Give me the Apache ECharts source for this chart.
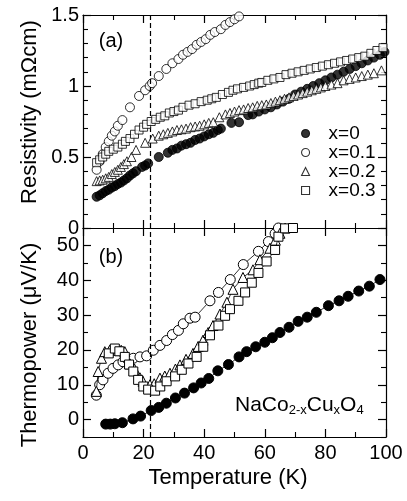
<!DOCTYPE html>
<html><head><meta charset="utf-8">
<script src="https://cdn.jsdelivr.net/npm/echarts@6/dist/echarts.min.js"></script>
<style>html,body{margin:0;padding:0;background:#fff}#c{width:407px;height:501px}</style>
</head><body><div id="c"></div>
<script>
// ---------- data ----------
const seriesNames = ['x=0', 'x=0.1', 'x=0.2', 'x=0.3'];
const xTicks = [0, 20, 40, 60, 80, 100];
const rhoTicks = [0, 0.5, 1, 1.5];
const sTicks = [0, 10, 20, 30, 40, 50];
const sMinorTicks = [-5, 5, 15, 25, 35, 45, 55];
const dashedT = 22.2;

// (a) Resistivity (mOhm cm)
const rhoT_0 = [4.5,5.5,6.5,7.5,8.5,9.5,10.5,11.5,12.5,13.5,14.5,15.5,16.5,17.5,19.5,20.5,21.5,25,28,29.5,31,32.5,34,35.5,37,38.5,40,41.5,43,44.5,45.5,49,51.5,54.5,56,58,60,62,64,66,68,70,72,74,76,78,80,82,84,86,88,90,92,94,96,98,99.5];
const rho_0  = [0.22,0.23,0.245,0.26,0.27,0.285,0.295,0.31,0.32,0.335,0.35,0.37,0.385,0.40,0.43,0.44,0.455,0.50,0.53,0.55,0.56,0.58,0.59,0.60,0.62,0.63,0.645,0.66,0.67,0.69,0.70,0.74,0.745,0.795,0.80,0.82,0.835,0.85,0.87,0.89,0.91,0.94,0.96,0.98,1.00,1.02,1.04,1.06,1.08,1.10,1.12,1.14,1.16,1.18,1.20,1.22,1.24];
const rhoT_1 = [4.5,5.5,6.5,7.5,8.5,9.5,10.5,11.5,13,15.5,18.5,20.5,22,22.8,25,27.5,29.5,31.5,33,34.5,36,37.5,39,40.5,42,43.5,45.5,47,48.5,50,51.5];
const rho_1  = [0.41,0.47,0.52,0.57,0.61,0.65,0.68,0.72,0.76,0.85,0.93,0.97,1.00,1.02,1.07,1.12,1.16,1.19,1.22,1.24,1.26,1.29,1.31,1.33,1.36,1.38,1.40,1.43,1.45,1.47,1.49];
const rhoT_2 = [4.5,5.5,6.5,7.5,8.5,9.5,10.5,11.5,12.5,13.5,14.5,16,17.5,20.5,23,25,26.5,28,29.5,31,32.5,34,35.5,37,38.5,40,41.5,43,45,47,48.5,50,51.5,53,54.5,56,57.5,59,60.5,62,63.5,65,66.5,68,69.5,71,72.5,74,75.5,77,78.5,80,82,84,86,88,90,92,94,96,98.5];
const rho_2  = [0.33,0.335,0.34,0.35,0.36,0.38,0.395,0.41,0.43,0.45,0.47,0.50,0.55,0.60,0.63,0.65,0.66,0.67,0.68,0.69,0.695,0.70,0.71,0.715,0.72,0.73,0.74,0.745,0.78,0.80,0.81,0.82,0.83,0.835,0.845,0.85,0.86,0.865,0.87,0.88,0.89,0.90,0.91,0.92,0.93,0.94,0.95,0.96,0.97,0.98,0.99,1.00,1.01,1.02,1.04,1.05,1.06,1.07,1.08,1.09,1.11];
const rhoT_3 = [4.5,5.5,6.5,7.5,8.5,10,11.5,13,14,15.5,17,18.5,20,21,22.5,24,25.5,27,28.5,30,31.5,33,35,37,39,41,42.5,44,46,48,49.5,51,53,55,56.5,58,59,61,63,65,67,69,71,73,75,77,79,81,83,85,87,89,91,93,95,97,99];
const rho_3  = [0.46,0.48,0.50,0.52,0.54,0.555,0.57,0.59,0.61,0.63,0.66,0.69,0.71,0.73,0.75,0.765,0.78,0.79,0.81,0.82,0.83,0.85,0.865,0.875,0.89,0.90,0.91,0.92,0.94,0.955,0.97,0.98,0.99,1.00,1.01,1.02,1.025,1.04,1.05,1.06,1.08,1.09,1.10,1.11,1.12,1.13,1.14,1.15,1.16,1.17,1.18,1.19,1.20,1.21,1.23,1.25,1.27];

// (b) Thermopower (uV/K)
const sT_0 = [7.5,9,10.5,13,16.5,19,22.5,25,27.5,30.5,33.5,36.5,39,41.5,44.5,48,51.5,54,57,60,62.5,65,68,71,74,77,81,84.5,87.5,91,94.5,98];
const s_0  = [-1.3,-1.3,-1.2,-0.9,0.2,1.0,2.6,3.5,4.7,6.2,7.6,9.1,10.5,11.8,14.0,15.8,18.0,19.5,20.9,22.2,23.5,25.0,26.5,28.2,29.4,30.8,32.7,34.1,35.4,36.9,38.3,40.2];
const sT_1 = [4.4,5.5,6.6,8.3,9.9,11.6,13.2,14.9,16.6,18.8,21,23.2,25.4,27.6,29.5,31.5,33.1,35.3,37,41.9,44.7,48.6,52.9,57.9,61.2,63.4,64.5];
const s_1  = [7.0,10.0,11.4,13.3,14.7,15.7,16.6,17.1,17.6,18.0,18.3,19.9,21.3,22.7,24.4,25.6,27.5,29.1,29.4,34.1,36.5,40.2,44.5,48.3,51.1,53.4,55];
const sT_2 = [4.4,5.0,6.1,7.2,8.8,10.2,11.6,12.6,13.8,15.5,17,18.8,19.8,22.1,23.5,25.4,27,28.7,30.5,32,34,36.3,38,39.6,41.3,42.9,45.2,47.5,49.5,52.8,56.1,58.4,61.7,63.5,65,66.7];
const s_2  = [8.1,13.8,17.6,19.5,19.9,20.0,19.9,19.9,19.5,16.0,14.5,12.0,11.0,10.0,10.3,11.9,12.5,13.3,14.5,15.7,17.3,19.0,21.0,22.8,25.0,27.0,30.3,33.7,37.4,40.8,43.0,45.9,49.2,51.5,53.5,55];
const sT_3 = [8.5,10.5,12,13.8,15.2,16.6,18.2,19.9,21.5,23.8,25.5,27.6,30.4,32.6,34.8,37.5,39.7,41.9,44.7,46.9,48.5,51.3,53.5,55.7,57.9,60.6,63.4,64.5,66.7,69.3];
const s_3  = [19.0,20.4,19.6,18.0,15.8,13.8,11.4,9.5,8.6,8.3,9.5,11.0,12.4,14.3,16.1,18.0,20.9,24.2,27.0,29.8,31.7,34.1,36.5,39.3,42.1,45.4,48.7,52.5,54.9,55];

// ---------- chart ----------
const FONT = 'Liberation Sans, Arial, Helvetica, sans-serif';
const pairs = (xs, ys) => xs.map((x, i) => [x, ys[i]]);
const black = '#000';

function xAxis(grid, pos, showLabel) {
  return {
    type: 'value', gridIndex: grid, position: pos, min: 0, max: 100, interval: 20,
    axisLine: { show: true, onZero: false, lineStyle: { color: black, width: 1.2 } },
    axisTick: { show: true, inside: true, length: 8, lineStyle: { color: black, width: 1.2 } },
    minorTick: { show: true, splitNumber: 2, length: 5, lineStyle: { color: black, width: 1.1 } },
    splitLine: { show: false }, minorSplitLine: { show: false },
    axisLabel: { show: showLabel, color: black, fontFamily: FONT, fontSize: 20, margin: 6 }
  };
}
function rhoAxis(pos, showLabel) {
  return {
    type: 'value', gridIndex: 0, position: pos, min: 0, max: 1.5, interval: 0.5,
    axisLine: { show: true, onZero: false, lineStyle: { color: black, width: 1.2 } },
    axisTick: { show: true, inside: true, length: 8, lineStyle: { color: black, width: 1.2 } },
    minorTick: { show: true, splitNumber: 5, length: 5, lineStyle: { color: black, width: 1.1 } },
    splitLine: { show: false }, minorSplitLine: { show: false },
    axisLabel: { show: showLabel, color: black, fontFamily: FONT, fontSize: 20, margin: 4 }
  };
}
function sAxis(pos, showLabel) {
  return {
    type: 'value', gridIndex: 1, position: pos, min: -5, max: 55,
    axisLine: { show: true, onZero: false, lineStyle: { color: black, width: 1.2 } },
    axisTick: { show: true, inside: true, length: 8, customValues: sTicks, lineStyle: { color: black, width: 1.2 } },
    splitLine: { show: false },
    axisLabel: { show: showLabel, customValues: sTicks, color: black, fontFamily: FONT, fontSize: 20, margin: 4 }
  };
}
function sMinorAxis(pos) {
  return {
    type: 'value', gridIndex: 1, position: pos, min: -5, max: 55,
    axisLine: { show: false, onZero: false },
    axisTick: { show: true, inside: true, length: 5, customValues: sMinorTicks, lineStyle: { color: black, width: 1.1 } },
    splitLine: { show: false },
    axisLabel: { show: false, customValues: sMinorTicks }
  };
}

const openStyle = { color: '#fff', borderColor: black, borderWidth: 1 };
const fillStyle = { color: black, borderColor: black, borderWidth: 1 };
const symbols = ['circle', 'circle', 'triangle', 'rect'];
const styles = [fillStyle, openStyle, openStyle, openStyle];
const topSizes = [9, 9, 9, 8];
const botSizes = [10, 10, 10, 9];
const topData = [pairs(rhoT_0, rho_0), pairs(rhoT_1, rho_1), pairs(rhoT_2, rho_2), pairs(rhoT_3, rho_3)];
const botData = [pairs(sT_0, s_0), pairs(sT_1, s_1), pairs(sT_2, s_2), pairs(sT_3, s_3)];

const series = [];
seriesNames.forEach((n, i) => {
  series.push({
    name: n, type: 'scatter', xAxisIndex: 0, yAxisIndex: 0, data: topData[i],
    symbol: symbols[i], symbolSize: topSizes[i], itemStyle: styles[i], z: 3 + i,
    emphasis: { disabled: true }
  });
});
seriesNames.forEach((n, i) => {
  series.push({
    name: n, type: 'line', xAxisIndex: 2, yAxisIndex: 4, data: botData[i],
    symbol: symbols[i], symbolSize: botSizes[i], showSymbol: true, itemStyle: styles[i],
    lineStyle: { color: black, width: 0.8 }, z: 3 + i, emphasis: { disabled: true }
  });
});
// dashed marker line in both panels
series.push({
  type: 'line', xAxisIndex: 0, yAxisIndex: 0, data: [], silent: true,
  markLine: { symbol: 'none', silent: true, label: { show: false },
    lineStyle: { color: black, type: [5, 3], width: 1.2 }, data: [{ xAxis: dashedT }] }
});
series.push({
  type: 'line', xAxisIndex: 2, yAxisIndex: 4, data: [], silent: true,
  markLine: { symbol: 'none', silent: true, label: { show: false },
    lineStyle: { color: black, type: [5, 3], width: 1.2 }, data: [{ xAxis: dashedT }] }
});

const option = {
  animation: false,
  backgroundColor: '#fff',
  textStyle: { fontFamily: FONT },
  grid: [
    { left: 83, right: 21, top: 15, height: 213 },
    { left: 83, right: 21, top: 228, height: 209 }
  ],
  xAxis: [xAxis(0, 'bottom', false), xAxis(0, 'top', false), xAxis(1, 'bottom', true), xAxis(1, 'top', false)],
  yAxis: [rhoAxis('left', true), rhoAxis('right', false), sAxis('left', true), sAxis('right', false),
          sMinorAxis('left'), sMinorAxis('right')],
  legend: {
    data: seriesNames.map((n, i) => ({ name: n, icon: symbols[i],
      itemStyle: { color: i === 0 ? black : '#fff', borderColor: black, borderWidth: 1.1 } })),
    orient: 'vertical', left: 296, top: 119, itemWidth: 8, itemHeight: 8, itemGap: 0,
    selectedMode: false,
    textStyle: { color: black, fontFamily: FONT, fontSize: 19, lineHeight: 19, padding: [0, 0, 0, 14] }
  },
  graphic: [
    { type: 'text', x: 30, y: 112, rotation: Math.PI / 2,
      style: { text: 'Resistivity (mΩcm)', fill: black, font: '22px ' + FONT, textAlign: 'center', textVerticalAlign: 'middle' } },
    { type: 'text', x: 30, y: 345, rotation: Math.PI / 2,
      style: { text: 'Thermopower (μV/K)', fill: black, font: '22px ' + FONT, textAlign: 'center', textVerticalAlign: 'middle' } },
    { type: 'text', x: 228, y: 478,
      style: { text: 'Temperature (K)', fill: black, font: '22px ' + FONT, textAlign: 'center', textVerticalAlign: 'middle' } },
    { type: 'text', x: 111, y: 41,
      style: { text: '(a)', fill: black, font: '20px ' + FONT, textAlign: 'center', textVerticalAlign: 'middle' } },
    { type: 'text', x: 111, y: 257,
      style: { text: '(b)', fill: black, font: '20px ' + FONT, textAlign: 'center', textVerticalAlign: 'middle' } },
    { type: 'text', x: 235, y: 405,
      style: {
        text: 'NaCo{s|2-x}Cu{s|x}O{s|4}', fill: black, fontFamily: FONT, fontSize: 21, lineHeight: 24,
        textAlign: 'left', textVerticalAlign: 'middle',
        rich: { s: { fontFamily: FONT, fontSize: 13, lineHeight: 24, verticalAlign: 'bottom', fill: black } }
      } }
  ],
  series: series
};
const chart = echarts.init(document.getElementById('c'), null, { renderer: 'canvas' });
chart.setOption(option);
</script>
</body></html>
